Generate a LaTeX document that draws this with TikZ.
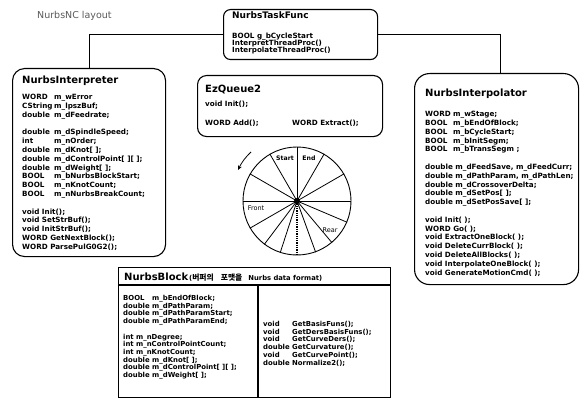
\documentclass[tikz,border=0pt]{standalone}
\usepackage{fontspec}
\setmainfont{DejaVu Sans}
\newfontfamily\krf{Noto Sans CJK KR}
\usetikzlibrary{arrows.meta}
\newcommand{\bodyf}{\fontsize{7.2}{8}\selectfont\bfseries}
\newcommand{\smallbodyf}{\fontsize{6.9}{8}\selectfont\bfseries}
\newcommand{\ttlf}{\fontsize{10}{12}\selectfont\bfseries}
\newcommand{\tb}[2][30pt]{\makebox[#1][l]{#2}}
\tikzset{
  box/.style={draw, line width=1.1pt, inner sep=0pt, anchor=north west},
  body/.style={anchor=base west, inner sep=0pt, font=\bodyf},
  sbody/.style={anchor=base west, inner sep=0pt, font=\smallbodyf},
  ttl/.style={anchor=base west, inner sep=0pt, font=\ttlf},
  conn/.style={line width=0.9pt},
  spoke/.style={line width=0.8pt},
  wlab/.style={inner sep=0pt, font=\fontsize{6.2}{7}\selectfont\bfseries},
}
\begin{document}
\begin{tikzpicture}[x=1pt,y=-1pt]
\useasboundingbox (0,0) rectangle (583,401);

% header
\node[anchor=base west, inner sep=0pt, font=\fontsize{9.5}{11}\selectfont, text=black!65] (hdr) at (37,19) {NurbsNC layout};

% boxes
\node[box, rounded corners=7pt, minimum width=154pt, minimum height=50pt] (task) at (223,9) {};
\node[box, rounded corners=12pt, minimum width=153pt, minimum height=188pt] (interp) at (12,68) {};
\node[box, rounded corners=9pt, minimum width=185pt, minimum height=61pt] (queue) at (197,75) {};
\node[box, rounded corners=15pt, minimum width=164pt, minimum height=211pt] (ipol) at (414,73) {};
\node[box, minimum width=272pt, minimum height=130pt] (blk) at (118,267) {};

% connectors
\draw[conn] (task.west) -| (interp.north);
\draw[conn] (task.east) -| ([xshift=4pt]ipol.north);

% NurbsTaskFunc
\node[anchor=base west, inner sep=0pt, font=\fontsize{9}{10}\selectfont\bfseries] (taskT) at (232,19) {NurbsTaskFunc};
\node[body] (task1) at (232,38.5) {BOOL g\_bCycleStart};
\node[body] (task2) at (232,45.5) {InterpretThreadProc()};
\node[body] (task3) at (232,52.5) {InterpolateThreadProc()};

% NurbsInterpreter
\node[ttl] (interpT) at (22,83.5) {NurbsInterpreter};
\foreach \k/\txt in {
 0/{\tb[32pt]{WORD}m\_wError},
 1/{\tb[32pt]{CString}m\_lpszBuf;},
 2/{\tb[32pt]{double}m\_dFeedrate;},
 4/{\tb[32pt]{double}m\_dSpindleSpeed;},
 5/{\tb[32pt]{int}m\_nOrder;},
 6/{\tb[32pt]{double}m\_dKnot[ ];},
 7/{\tb[32pt]{double}m\_dControlPoint[ ][ ];},
 8/{\tb[32pt]{double}m\_dWeight[ ];},
 9/{\tb[32pt]{BOOL}m\_bNurbsBlockStart;},
 10/{\tb[32pt]{BOOL}m\_nKnotCount;},
 11/{\tb[32pt]{BOOL}m\_nNurbsBreakCount;},
 13/{void Init();},
 14/{void SetStrBuf();},
 15/{void InitStrBuf();},
 16/{WORD GetNextBlock();},
 17/{WORD ParsePulG0G2();}}
 \node[body] (ip\k) at (22,{99.6+\k*8.8}) {\txt};

% EzQueue2
\node[ttl] (queueT) at (205,92.5) {EzQueue2};
\node[body] (queue1) at (205,106.5) {void Init();};
\node[body] (queue2) at (205,125.5) {WORD Add();};
\node[body] (queue3) at (292,125.5) {WORD Extract();};

% NurbsInterpolator
\node[ttl] (ipolT) at (425,96.5) {NurbsInterpolator};
\foreach \k/\txt in {
 0/{\tb[28pt]{WORD}m\_wStage;},
 1/{\tb[28pt]{BOOL}m\_bEndOfBlock;},
 2/{\tb[28pt]{BOOL}m\_bCycleStart;},
 3/{\tb[28pt]{BOOL}m\_bInitSegm;},
 4/{\tb[28pt]{BOOL}m\_bTransSegm ;},
 6/{double m\_dFeedSave, m\_dFeedCurr;},
 7/{double m\_dPathParam, m\_dPathLen;},
 8/{double m\_dCrossoverDelta;},
 9/{double m\_dSetPos[ ];},
 10/{double m\_dSetPosSave[ ];},
 12/{void Init( );},
 13/{WORD Go( );},
 14/{void ExtractOneBlock( );},
 15/{void DeleteCurrBlock( );},
 16/{void DeleteAllBlocks( );},
 17/{void InterpolateOneBlock( );},
 18/{void GenerateMotionCmd( );}}
 \node[body] (ipl\k) at (425,{116.6+\k*8.8}) {\txt};

% wheel
\node[draw, circle, line width=0.9pt, minimum size=108pt, inner sep=0pt] (wheel) at (297,201) {};
\foreach \a in {0,30,60,90,120,150,180,210,233,252,290,310,337}
  \draw[spoke] (wheel.center) -- (wheel.\a);
\draw[spoke, line width=1.3pt, densely dotted] (wheel.center) -- (wheel.270);
\fill (wheel.center) circle (3pt);
\node[wlab] (start) at (285,158) {Start};
\node[wlab] (end) at (309,158) {End};
\node[wlab, font=\fontsize{6.5}{7}\selectfont] (front) at (256,208) {Front};
\node[wlab, font=\fontsize{6.5}{7}\selectfont] (rear) at (330,230) {Rear};
\coordinate (arrS) at (251,152);
\coordinate (arrE) at (238,170);
\draw[line width=0.8pt, -{Stealth[length=4.5pt,width=4pt]}] (arrS) to[bend right=10] (arrE);

% NurbsBlock
\draw[line width=1.1pt] ([yshift=-18pt]blk.north west) -- ([yshift=-18pt]blk.north east);
\draw[line width=1.1pt] ([xshift=140pt,yshift=-18pt]blk.north west) -- ([xshift=140pt]blk.south west);
\node[ttl] (blkT) at (124,280.5) {NurbsBlock};
\node[anchor=base west, inner sep=0pt, font=\fontsize{6.8}{8}\selectfont\bfseries] (blkS) at (189,280.5) {({\krf\fontsize{7.8}{8}\selectfont 버퍼의\hspace{7pt}포맷을}\hspace{6pt}Nurbs data format)};
\foreach \k/\txt in {
 0/{\tb[29pt]{BOOL}m\_bEndOfBlock;},
 1/{double m\_dPathParam;},
 2/{double m\_dPathParamStart;},
 3/{double m\_dPathParamEnd;},
 5/{int m\_nDegree;},
 6/{int m\_nControlPointCount;},
 7/{int m\_nKnotCount;},
 8/{double m\_dKnot[ ];},
 9/{double m\_dControlPoint[ ][ ];},
 10/{double m\_dWeight[ ];}}
 \node[sbody] (bl\k) at (123,{300.5+\k*7.7}) {\txt};
\foreach \k/\txt in {
 0/{\tb[29pt]{void}GetBasisFuns();},
 1/{\tb[29pt]{void}GetDersBasisFuns();},
 2/{\tb[29pt]{void}GetCurveDers();},
 3/{double GetCurvature();},
 4/{\tb[29pt]{void}GetCurvePoint();},
 5/{double Normalize2();}}
 \node[sbody] (br\k) at (263,{326.5+\k*7.7}) {\txt};
\end{tikzpicture}
\end{document}
